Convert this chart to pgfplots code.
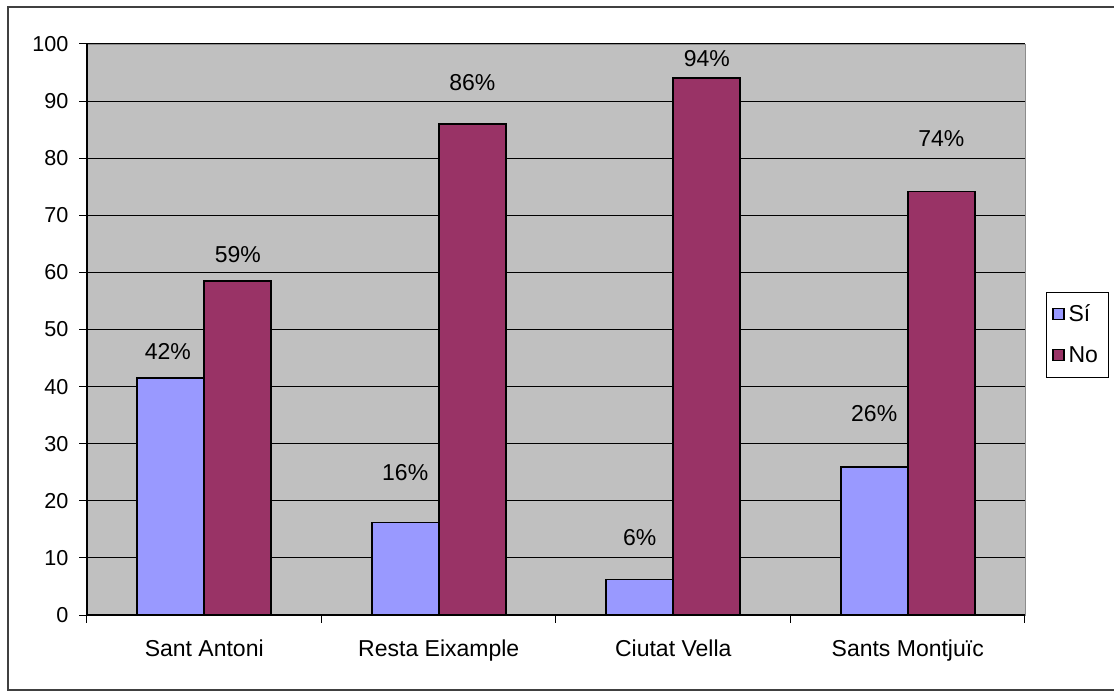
\documentclass[border=0pt]{standalone}
\usepackage{pgfplots}
\pgfplotsset{compat=1.18}
\usepackage{fontspec}
\setmainfont{Liberation Sans}

\definecolor{plotgray}{HTML}{C0C0C0}
\definecolor{siblue}{HTML}{9999FF}
\definecolor{noplum}{HTML}{993366}

\begin{document}
\begin{tikzpicture}
\begin{axis}[
	at={(0,0)}, anchor=south west,
	width=469pt, height=285.5pt,
	scale only axis,
	xmin=0.5, xmax=4.5,
	ymin=0, ymax=100,
	ytick={0,10,...,100},
	xtick={0.5,1.5,2.5,3.5,4.5},
	xticklabels={},
	extra x ticks={1,2,3,4},
	extra x tick labels={Sant Antoni, Resta Eixample, Ciutat Vella, Sants Montjuïc},
	extra x tick style={major tick length=0pt, grid=none,
		tick label style={font=\fontsize{11.5}{13}\selectfont, yshift=-9pt}},
	major tick length=3.8pt,
	tick align=outside,
	tick style={black, line width=0.5pt},
	ymajorgrids,
	major grid style={black, line width=0.5pt},
	axis background/.style={fill=plotgray},
	axis line style={draw=black!45},
	xtick pos=bottom, ytick pos=left,
	clip=false,
	/pgf/number format/assume math mode=true,
	yticklabel style={font=\fontsize{10.8}{12}\selectfont, xshift=-2pt},
	legend style={at={(1.0224,0.5657)}, anchor=north west, draw=black, fill=white,
		font=\fontsize{11.5}{13}\selectfont, row sep=7pt, inner xsep=3pt, inner ysep=4pt,
		cells={anchor=west}},
	legend image code/.code={\draw[#1, draw=black, line width=0.6pt] (0pt,-2.5pt) rectangle (5.5pt,3pt);},
]
\addplot[ybar, bar width=33.5pt, bar shift=-16.75pt, fill=siblue, draw=black, line width=0.8pt]
	coordinates {(1,41.5) (2,16.2) (3,6.2) (4,25.9)};
\addlegendentry{Sí}
\addplot[ybar, bar width=33.5pt, bar shift=16.75pt, fill=noplum, draw=black, line width=0.8pt]
	coordinates {(1,58.5) (2,86.0) (3,94.0) (4,74.2)};
\addlegendentry{No}
% percentage labels, placed where they sit in the original
\addplot[draw=none, forget plot, nodes near coords, point meta=explicit symbolic,
	every node near coord/.style={anchor=center, font=\fontsize{11.5}{13}\selectfont}]
	coordinates {(0.845,46.2) [42\%] (1.857,24.9) [16\%] (2.857,13.5) [6\%] (3.857,35.2) [26\%]
		(1.143,63.2) [59\%] (2.143,93.2) [86\%] (3.143,97.5) [94\%] (4.143,83.5) [74\%]};
\pgfplotsinvokeforeach{0,10,...,100}{\draw[black, line width=0.5pt] (axis cs:0.5,#1) -- ++(-3.8pt,0pt);}
\draw[black, line width=0.6pt] (rel axis cs:0,0) -- (rel axis cs:0,1);
\draw[black, line width=0.6pt] (rel axis cs:0,0) -- (rel axis cs:1,0);
\end{axis}
\draw[black!75, line width=0.6pt] (-39.5pt,-37.5pt) rectangle (520pt,304pt);
\pgfresetboundingbox
\useasboundingbox (-43.5pt,-38pt) rectangle (513.5pt,307.5pt);
\end{tikzpicture}
\end{document}
